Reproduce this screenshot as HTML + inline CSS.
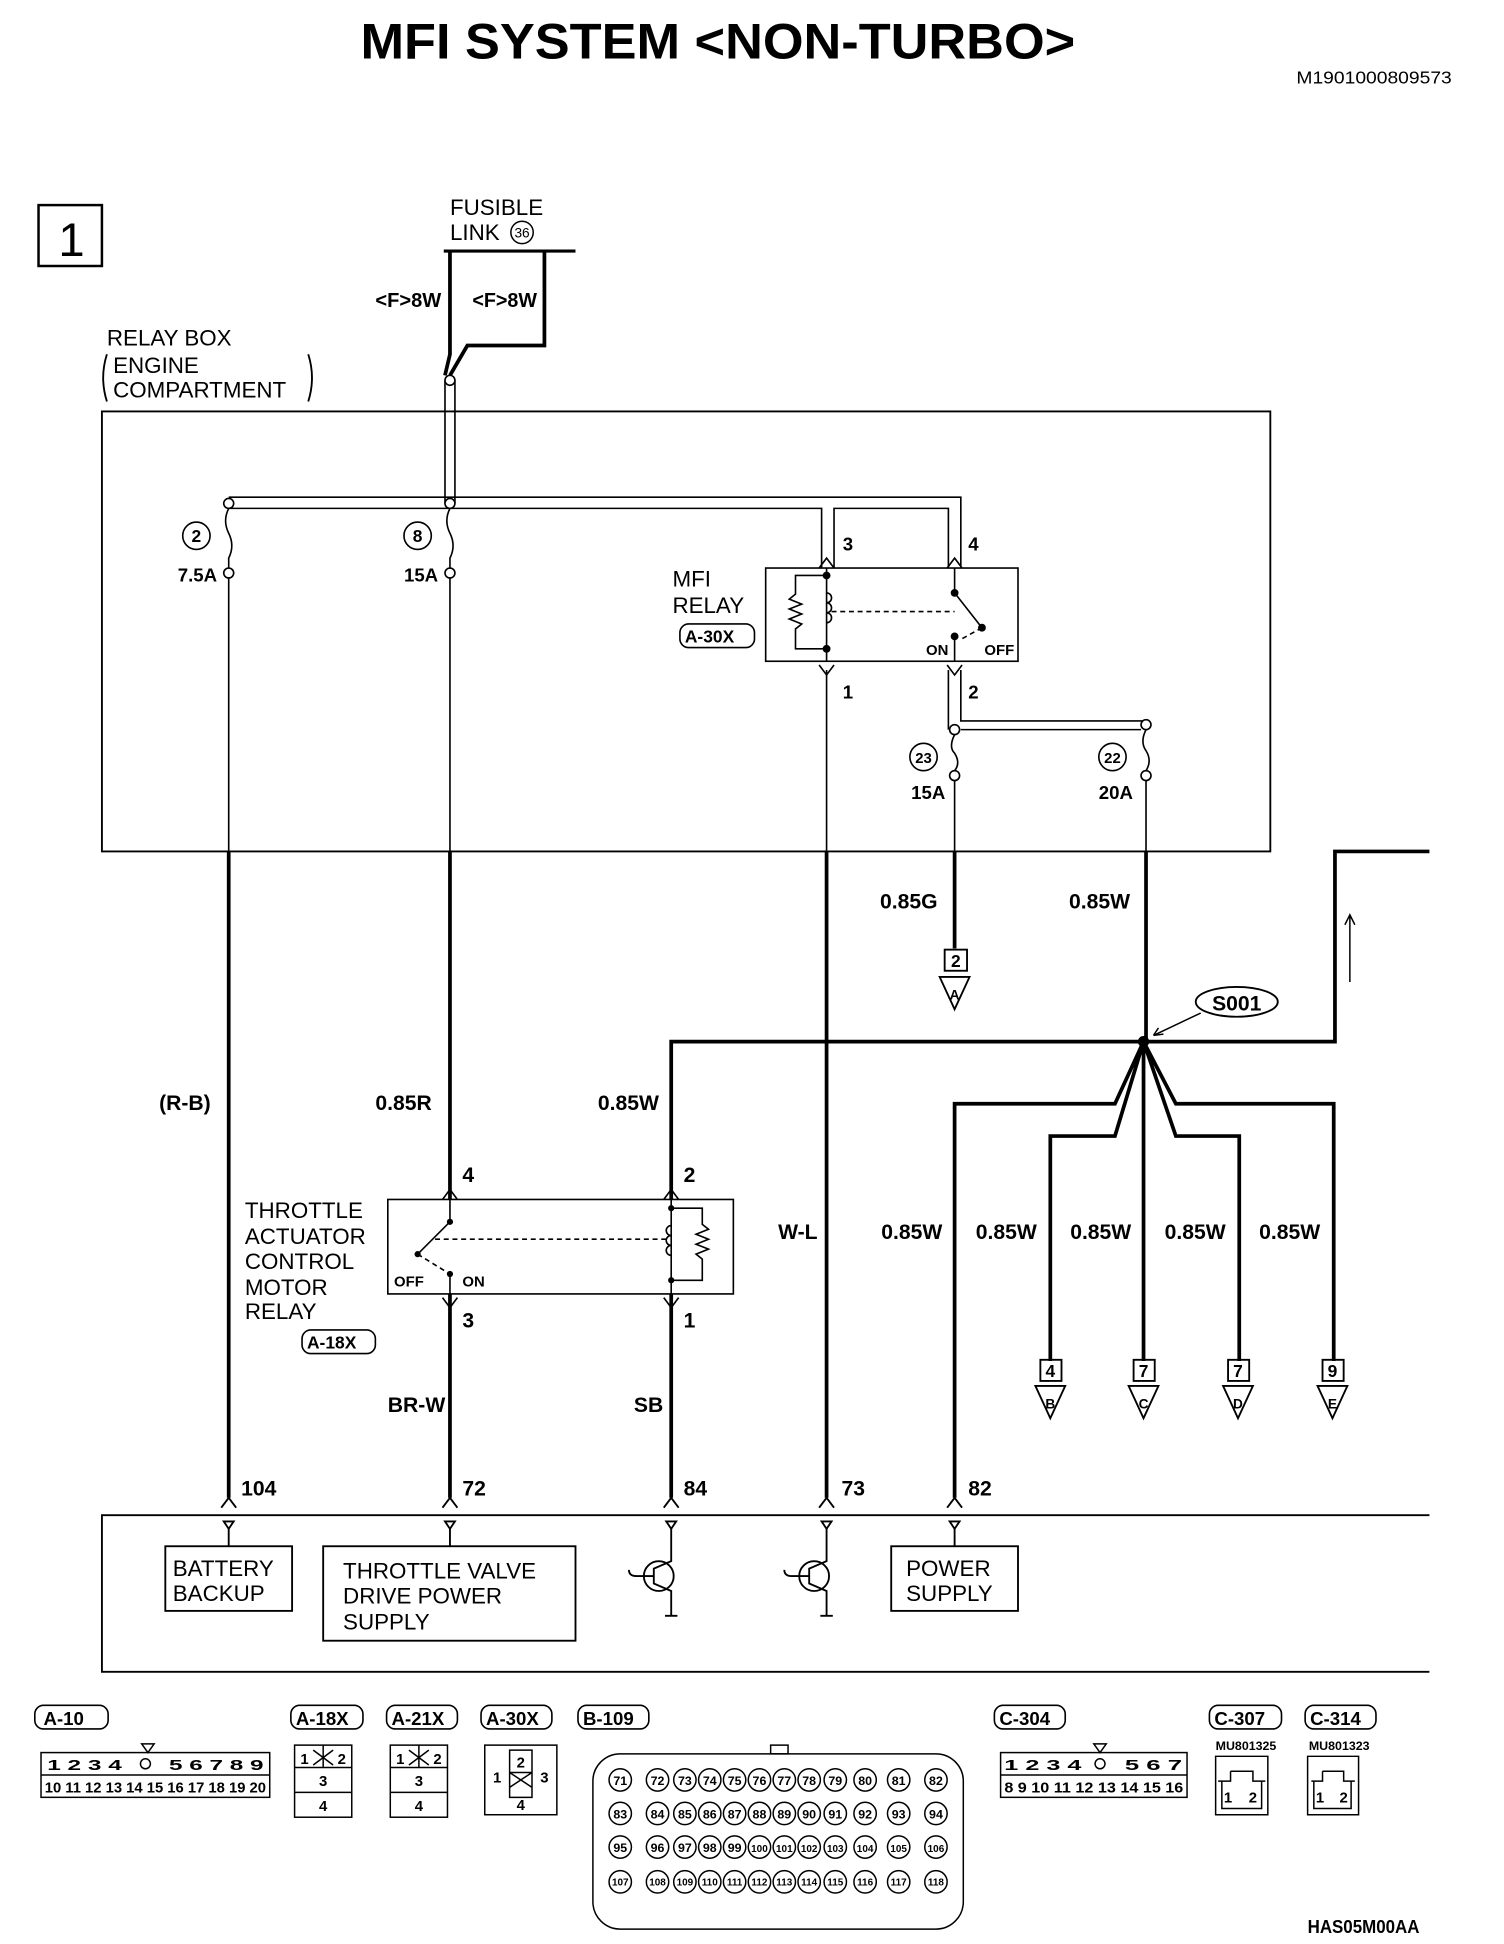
<!DOCTYPE html>
<html><head><meta charset="utf-8"><style>
html,body{margin:0;padding:0;background:#fff}
svg{display:block}
text{font-family:"Liberation Sans",sans-serif;fill:#000}
.b{font-weight:bold}
</style></head><body>
<svg width="1504" height="1944" viewBox="0 0 1210 1564" preserveAspectRatio="none" xmlns="http://www.w3.org/2000/svg">
<defs>
<g id="row"><circle cx="499" cy="0" r="9"/><circle cx="529" cy="0" r="9"/><circle cx="551" cy="0" r="9"/><circle cx="571" cy="0" r="9"/><circle cx="591" cy="0" r="9"/><circle cx="611" cy="0" r="9"/><circle cx="631" cy="0" r="9"/><circle cx="651" cy="0" r="9"/><circle cx="672" cy="0" r="9"/><circle cx="696" cy="0" r="9"/><circle cx="723" cy="0" r="9"/><circle cx="753" cy="0" r="9"/></g>
</defs>
<text x="290" y="47" class="b" font-size="40" textLength="575" lengthAdjust="spacingAndGlyphs">MFI SYSTEM &lt;NON-TURBO&gt;</text>
<text x="1043" y="67" font-size="14" textLength="125" lengthAdjust="spacingAndGlyphs">M1901000809573</text>
<rect x="31" y="165" width="51" height="49" fill="none" stroke="#000" stroke-width="2"/>
<text x="47" y="206" font-size="38">1</text>

<text x="362" y="173" font-size="18">FUSIBLE</text>
<text x="362" y="193" font-size="18">LINK</text>
<circle cx="420" cy="187" r="9" fill="none" stroke="#000" stroke-width="1.2"/>
<text x="420" y="191" font-size="11" text-anchor="middle">36</text>
<line x1="357" y1="202" x2="463" y2="202" stroke="#000" stroke-width="2.5"/>
<path d="M362 202 V285 L358 302 M438 202 V278 H376 L362 302" fill="none" stroke="#000" stroke-width="3"/>
<text x="302" y="247" font-size="16" class="b" textLength="53" lengthAdjust="spacingAndGlyphs">&lt;F&gt;8W</text>
<text x="380" y="247" font-size="16" class="b" textLength="52" lengthAdjust="spacingAndGlyphs">&lt;F&gt;8W</text>

<text x="86" y="278" font-size="18">RELAY BOX</text>
<text x="91" y="300" font-size="18">ENGINE</text>
<text x="91" y="320" font-size="18">COMPARTMENT</text>
<path d="M86 285 Q80 304 86 323 M248 285 Q254 304 248 323" fill="none" stroke="#000" stroke-width="1.5"/>

<rect x="82" y="331" width="940" height="354" fill="none" stroke="#000" stroke-width="1.5"/>

<g fill="none" stroke="#000" stroke-width="1.3">
<path d="M358 306 V405 M366 306 V405"/>
<circle cx="362" cy="306" r="4" fill="#fff"/>
<path d="M184 400 H773 V457 M184 409 H661 V457 M671 457 V409 H763 V457"/>
<circle cx="184" cy="405" r="4" fill="#fff"/>
<circle cx="362" cy="405" r="4" fill="#fff"/>
<path d="M184 409 q-5 10 0 20 q5 10 0 20 v8"/>
<circle cx="184" cy="461" r="4" fill="#fff"/>
<path d="M362 409 q-5 10 0 20 q5 10 0 20 v8"/>
<circle cx="362" cy="461" r="4" fill="#fff"/>
<circle cx="158" cy="431" r="11"/>
<circle cx="336" cy="431" r="11"/>
<line x1="184" y1="465" x2="184" y2="685"/>
<line x1="362" y1="465" x2="362" y2="685"/>
<rect x="616" y="457" width="203" height="75"/>
<path d="M659 457 L665 449 L671 457 M762 457 L768 449 L774 457"/>
<path d="M659 535 L665 543 L671 535 M762 535 L768 543 L774 535"/>
<path d="M665 457 V532 M768 457 V477 L790 505 M768 532 V512"/>
<path d="M665 463 H640 V478 l-5 4 l10 4 l-10 4 l10 4 l-10 4 l10 4 l-5 4 V522 H665"/>
<path d="M665 477 a4 4 0 0 1 0 8 a4 4 0 0 1 0 8 a4 4 0 0 1 0 8"/>
<path d="M669 492 H768 M790 505 L772 515" stroke-dasharray="4 3"/>
<circle cx="665" cy="463" r="2.5" fill="#000"/><circle cx="665" cy="522" r="2.5" fill="#000"/>
<circle cx="768" cy="477" r="2.5" fill="#000"/><circle cx="790" cy="505" r="2.5" fill="#000"/><circle cx="768" cy="512" r="2.5" fill="#000"/>
<rect x="547" y="502" width="60" height="19" rx="7"/>
<path d="M763 539 V587 M773 539 V580 H922 M773 587 H918"/>
<circle cx="768" cy="587" r="4" fill="#fff"/>
<circle cx="922" cy="583" r="4" fill="#fff"/>
<path d="M768 591 q-5 10 0 15 q5 8 0 14"/><circle cx="768" cy="624" r="4" fill="#fff"/>
<path d="M922 587 q-5 10 0 17 q5 8 0 16"/><circle cx="922" cy="624" r="4" fill="#fff"/>
<circle cx="743" cy="609" r="11"/>
<circle cx="895" cy="609" r="11"/>
<path d="M665 539 V685 M768 628 V685 M922 628 V685"/>
</g>
<g font-size="14" class="b" text-anchor="middle">
<text x="158" y="436">2</text><text x="336" y="436">8</text>
<text x="743" y="614" font-size="12">23</text><text x="895" y="614" font-size="12">22</text>
</g>
<g font-size="15" class="b">
<text x="143" y="468">7.5A</text><text x="325" y="468">15A</text>
<text x="733" y="643">15A</text><text x="884" y="643">20A</text>
<text x="678" y="443">3</text><text x="779" y="443">4</text>
<text x="678" y="562">1</text><text x="779" y="562">2</text>
<text x="745" y="527" font-size="12">ON</text><text x="792" y="527" font-size="12">OFF</text>
<text x="551" y="517" font-size="14">A-30X</text>
</g>
<text x="541" y="472" font-size="18">MFI</text>
<text x="541" y="493" font-size="18">RELAY</text>

<g fill="none" stroke="#000" stroke-width="3">
<path d="M184 685 V1205 M362 685 V965 M362 1041 V1205 M665 685 V1205 M768 685 V763 M922 685 V838"/>
<path d="M540 965 V838 H1074 V685 H1150 M540 1041 V1205"/>
<path d="M920 838 L897 888 H768 V1205 M920 838 L897 914 H845 V1095 M920 838 V1095 M920 838 L946 914 H997 V1095 M920 838 L946 888 H1073 V1095"/>
</g>
<circle cx="920" cy="838" r="4.5" fill="#000"/>
<ellipse cx="995" cy="806" rx="33" ry="12" fill="none" stroke="#000" stroke-width="1.5"/>
<text x="995" y="813" font-size="17" class="b" text-anchor="middle">S001</text>
<path d="M966 815 L928 833 M928 833 l8 -1 M928 833 l4 -6" fill="none" stroke="#000" stroke-width="1.2"/>
<path d="M1086 790 V736 M1082 744 L1086 736 L1090 744" fill="none" stroke="#000" stroke-width="1.2"/>

<g fill="none" stroke="#000" stroke-width="1.5">
<rect x="760" y="764" width="18" height="17"/><path d="M756 786 H780 L768 812 Z"/>
<rect x="837" y="1094" width="17" height="17"/><path d="M833 1115 H857 L845 1141 Z"/>
<rect x="912" y="1094" width="17" height="17"/><path d="M908 1115 H932 L920 1141 Z"/>
<rect x="988" y="1094" width="17" height="17"/><path d="M984 1115 H1008 L996 1141 Z"/>
<rect x="1064" y="1094" width="17" height="17"/><path d="M1060 1115 H1084 L1072 1141 Z"/>
</g>
<g font-size="14" class="b" text-anchor="middle">
<text x="769" y="778">2</text><text x="768" y="804" font-size="11">A</text>
<text x="845" y="1108">4</text><text x="845" y="1133" font-size="11">B</text>
<text x="920" y="1108">7</text><text x="920" y="1133" font-size="11">C</text>
<text x="996" y="1108">7</text><text x="996" y="1133" font-size="11">D</text>
<text x="1072" y="1108">9</text><text x="1072" y="1133" font-size="11">E</text>
</g>

<g font-size="17" class="b">
<text x="708" y="731">0.85G</text><text x="860" y="731">0.85W</text>
<text x="128" y="893">(R-B)</text><text x="302" y="893">0.85R</text><text x="481" y="893">0.85W</text>
<text x="626" y="997">W-L</text>
<text x="709" y="997">0.85W</text><text x="785" y="997">0.85W</text><text x="861" y="997">0.85W</text><text x="937" y="997">0.85W</text><text x="1013" y="997">0.85W</text>
<text x="312" y="1136">BR-W</text><text x="510" y="1136">SB</text>
<text x="372" y="951">4</text><text x="550" y="951">2</text>
<text x="372" y="1068">3</text><text x="550" y="1068">1</text>
<text x="194" y="1203">104</text><text x="372" y="1203">72</text><text x="550" y="1203">84</text><text x="677" y="1203">73</text><text x="779" y="1203">82</text>
</g>

<g fill="none" stroke="#000" stroke-width="1.3">
<rect x="312" y="965" width="278" height="76"/>
<path d="M356 965 L362 957 L368 965 M534 965 L540 957 L546 965 M356 1044 L362 1052 L368 1044 M534 1044 L540 1052 L546 1044"/>
<path d="M362 965 V983 L336 1009 M362 1041 V1025 M540 965 V1041"/>
<path d="M540 972 H565 V985 l5 4 l-10 4 l10 4 l-10 4 l10 4 l-10 4 l5 4 V1030 H540"/>
<path d="M540 986 a4 4 0 0 0 0 8 a4 4 0 0 0 0 8 a4 4 0 0 0 0 8"/>
<path d="M350 997 H536 M336 1009 L362 1025" stroke-dasharray="4 3"/>
<rect x="243" y="1070" width="59" height="19" rx="7"/>
</g>
<circle cx="362" cy="983" r="2.5"/><circle cx="336" cy="1009" r="2.5"/><circle cx="362" cy="1025" r="2.5"/>
<circle cx="540" cy="972" r="2.5"/><circle cx="540" cy="1030" r="2.5"/>
<text x="317" y="1035" font-size="12" class="b">OFF</text><text x="372" y="1035" font-size="12" class="b">ON</text>
<g font-size="18"><text x="197" y="980">THROTTLE</text><text x="197" y="1001">ACTUATOR</text><text x="197" y="1021">CONTROL</text><text x="197" y="1042">MOTOR</text><text x="197" y="1061">RELAY</text></g>
<text x="247" y="1085" font-size="14" class="b">A-18X</text>

<g fill="none" stroke="#000" stroke-width="1.5">
<path d="M1150 1219 H82 V1345 H1150"/>
<path d="M178 1213 L184 1205 L190 1213 M356 1213 L362 1205 L368 1213 M534 1213 L540 1205 L546 1213 M659 1213 L665 1205 L671 1213 M762 1213 L768 1205 L774 1213"/>
<path d="M180 1224 h8 l-4 6 z M358 1224 h8 l-4 6 z M536 1224 h8 l-4 6 z M661 1224 h8 l-4 6 z M764 1224 h8 l-4 6 z"/>
<path d="M184 1230 V1244 M362 1230 V1244 M768 1230 V1244"/>
<rect x="133" y="1244" width="102" height="52"/>
<rect x="260" y="1244" width="203" height="76"/>
<rect x="717" y="1244" width="102" height="52"/>
<circle cx="530" cy="1268" r="12"/><path d="M540 1230 V1256 L526 1262 V1274 L540 1280 V1300 M526 1268 H512 q-6 0 -6 -5 M535 1300 h10"/>
<circle cx="655" cy="1268" r="12"/><path d="M665 1230 V1256 L651 1262 V1274 L665 1280 V1300 M651 1268 H637 q-6 0 -6 -5 M660 1300 h10"/>
</g>
<g font-size="18">
<text x="139" y="1268">BATTERY</text><text x="139" y="1288">BACKUP</text>
<text x="276" y="1270">THROTTLE VALVE</text><text x="276" y="1290">DRIVE POWER</text><text x="276" y="1311">SUPPLY</text>
<text x="729" y="1268">POWER</text><text x="729" y="1288">SUPPLY</text>
</g>

<g fill="none" stroke="#000" stroke-width="1.3">
<rect x="28" y="1372" width="59" height="19" rx="7"/><rect x="234" y="1372" width="58" height="19" rx="7"/>
<rect x="311" y="1372" width="57" height="19" rx="7"/><rect x="387" y="1372" width="57" height="19" rx="7"/>
<rect x="465" y="1372" width="57" height="19" rx="7"/><rect x="800" y="1372" width="57" height="19" rx="7"/>
<rect x="973" y="1372" width="58" height="19" rx="7"/><rect x="1050" y="1372" width="57" height="19" rx="7"/>
</g>
<g font-size="15" class="b">
<text x="35" y="1388">A-10</text><text x="238" y="1388">A-18X</text><text x="315" y="1388">A-21X</text><text x="391" y="1388">A-30X</text>
<text x="469" y="1388">B-109</text><text x="804" y="1388">C-304</text><text x="977" y="1388">C-307</text><text x="1054" y="1388">C-314</text>
</g>
<g fill="none" stroke="#000" stroke-width="1.2">
<rect x="33" y="1410" width="184" height="36"/>
<path d="M33 1428 H217 M114 1403 h10 l-5 7 z"/>
<circle cx="117" cy="1419" r="4"/>
</g>
<g font-size="12" class="b">
<text x="38" y="1424" textLength="60" lengthAdjust="spacingAndGlyphs">1 2 3 4</text><text x="136" y="1424" textLength="76" lengthAdjust="spacingAndGlyphs">5 6 7 8 9</text>
<text x="36" y="1442" textLength="178" lengthAdjust="spacingAndGlyphs">10 11 12 13 14 15 16 17 18 19 20</text>
</g>
<g fill="none" stroke="#000" stroke-width="1.2">
<rect x="237" y="1404" width="46" height="58"/><path d="M237 1422 H283 M237 1442 H283 M260 1404 V1422 M252 1408 l16 12 M268 1408 l-16 12"/>
<rect x="314" y="1404" width="46" height="58"/><path d="M314 1422 H360 M314 1442 H360 M337 1404 V1422 M329 1408 l16 12 M345 1408 l-16 12"/>
<rect x="390" y="1404" width="58" height="56"/><path d="M410 1408 h18 v18 h-18 z M410 1426 h18 v20 h-18 z M410 1426 l18 12 M428 1426 l-18 12"/>
<rect x="477" y="1411" width="298" height="141" rx="22"/>
<rect x="620" y="1404" width="14" height="7"/>
<rect x="805" y="1410" width="150" height="36"/><path d="M805 1428 H955 M880 1403 h10 l-5 7 z"/><circle cx="885" cy="1419" r="4"/>
<path d="M978 1413 h42 v47 h-42 z M990 1425 h18 v8 h10 M990 1425 v8 h-10 M983 1433 v22 h32 v-22"/>
<path d="M1052 1413 h41 v47 h-41 z M1064 1425 h17 v8 h9 M1064 1425 v8 h-9 M1057 1433 v22 h30 v-22"/>
</g>
<g font-size="12" class="b" text-anchor="middle">
<text x="245" y="1419">1</text><text x="275" y="1419">2</text><text x="260" y="1437">3</text><text x="260" y="1457">4</text>
<text x="322" y="1419">1</text><text x="352" y="1419">2</text><text x="337" y="1437">3</text><text x="337" y="1457">4</text>
<text x="419" y="1422">2</text><text x="400" y="1434">1</text><text x="438" y="1434">3</text><text x="419" y="1456">4</text>
<text x="988" y="1450">1</text><text x="1008" y="1450">2</text><text x="1062" y="1450">1</text><text x="1081" y="1450">2</text>
</g>
<text x="808" y="1424" font-size="12" class="b" textLength="62" lengthAdjust="spacingAndGlyphs">1 2 3 4</text>
<text x="905" y="1424" font-size="12" class="b" textLength="46" lengthAdjust="spacingAndGlyphs">5 6 7</text>
<text x="808" y="1442" font-size="12" class="b" textLength="144" lengthAdjust="spacingAndGlyphs">8 9 10 11 12 13 14 15 16</text>
<text x="978" y="1408" font-size="10" class="b">MU801325</text>
<text x="1053" y="1408" font-size="10" class="b">MU801323</text>
<g fill="none" stroke="#000" stroke-width="1.2">
<use href="#row" y="1432"/><use href="#row" y="1459"/><use href="#row" y="1486"/><use href="#row" y="1514"/>
</g>
<g font-size="10" class="b" text-anchor="middle">
<text x="499" y="1436">71</text><text x="529" y="1436">72</text><text x="551" y="1436">73</text><text x="571" y="1436">74</text><text x="591" y="1436">75</text><text x="611" y="1436">76</text><text x="631" y="1436">77</text><text x="651" y="1436">78</text><text x="672" y="1436">79</text><text x="696" y="1436">80</text><text x="723" y="1436">81</text><text x="753" y="1436">82</text>
<text x="499" y="1463">83</text><text x="529" y="1463">84</text><text x="551" y="1463">85</text><text x="571" y="1463">86</text><text x="591" y="1463">87</text><text x="611" y="1463">88</text><text x="631" y="1463">89</text><text x="651" y="1463">90</text><text x="672" y="1463">91</text><text x="696" y="1463">92</text><text x="723" y="1463">93</text><text x="753" y="1463">94</text>
<text x="499" y="1490">95</text><text x="529" y="1490">96</text><text x="551" y="1490">97</text><text x="571" y="1490">98</text><text x="591" y="1490">99</text><text x="611" y="1490" font-size="8">100</text><text x="631" y="1490" font-size="8">101</text><text x="651" y="1490" font-size="8">102</text><text x="672" y="1490" font-size="8">103</text><text x="696" y="1490" font-size="8">104</text><text x="723" y="1490" font-size="8">105</text><text x="753" y="1490" font-size="8">106</text>
<g font-size="8"><text x="499" y="1517">107</text><text x="529" y="1517">108</text><text x="551" y="1517">109</text><text x="571" y="1517">110</text><text x="591" y="1517">111</text><text x="611" y="1517">112</text><text x="631" y="1517">113</text><text x="651" y="1517">114</text><text x="672" y="1517">115</text><text x="696" y="1517">116</text><text x="723" y="1517">117</text><text x="753" y="1517">118</text></g>
</g>
<text x="1052" y="1555" font-size="15" class="b" textLength="90" lengthAdjust="spacingAndGlyphs">HAS05M00AA</text>
</svg>
</body></html>
